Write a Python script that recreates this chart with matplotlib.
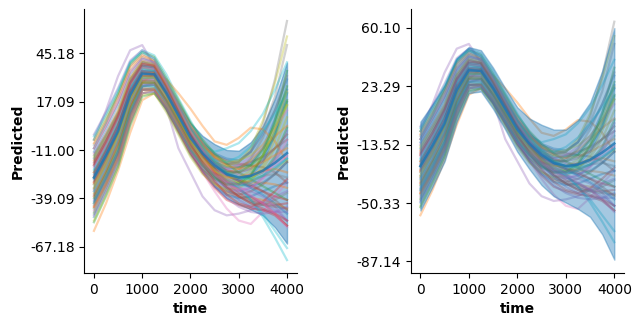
import numpy as np
import matplotlib
matplotlib.use("Agg")
import matplotlib.pyplot as plt

# time grid of the samples
time = np.arange(0, 4001, 250)

# posterior mean
mean = [-27, -14, 0, 21, 33.5, 33, 22, 9, -4, -13, -20, -25, -27, -26, -23, -18.5, -12.8]

# bands (left: narrow, right: wide)
lower_left = [-41, -27, -12, 11, 26.2, 26.5, 15.5, 1.6, -12.7, -23.2, -32.4, -39, -42.6, -45.6, -49, -55.9, -65.4]
upper_left = [-13, -1, 12, 31, 40.8, 39.5, 28.5, 16.4, 4.7, -2.8, -7.6, -11, -11.4, -6.4, 3, 18.9, 39.8]
lower_right = [-55, -40, -24, 1, 19, 20, 9, -4, -18, -29, -39, -46, -50, -54, -59, -70, -86]
upper_right = [1, 12, 24, 41, 48, 46, 35, 22, 10, 3, -1, -4, -4, 2, 13, 33, 60]

# sampled curves, in plotting order (colour follows the default cycle)
samples_a = [
    [-41, -27, -12, 11, 26, 28, 19, 6, -6, -13, -20, -22, -21, -19, -10, 7, 24],
    [-58, -42, -23, -1, 18, 22, 13, 0, -13, -23, -31, -36, -38, -39, -40, -42, -45],
    [-48, -33, -17, 7, 24, 25, 15, 3, -9, -17, -22, -25, -27, -27, -24, -15, 2],
    [-20, -8, 6, 26, 37, 36, 25, 12, -1, -12, -22, -30, -36, -40, -42, -43, -42],
    [-5, 12, 32, 47, 50, 38, 14, -10, -24, -38, -46, -49, -48, -46, -42, -38, -35],
    [-34, -20, -6, 16, 30, 31, 21, 9, -2, -9, -14, -17, -19, -20, -21, -24, -30],
    [-38, -24, -9, 14, 28, 28, 17, 3, -11, -24, -35, -45, -52, -54, -47, -38, -30],
    [-8, 5, 20, 38, 45, 41, 30, 17, 4, -6, -14, -18, -18, -12, 4, 30, 64],
    [-24, -10, 6, 27, 37, 35, 24, 11, -2, -11, -17, -20, -18, -10, 6, 28, 55],
    [-10, 5, 22, 40, 47, 44, 33, 19, 6, -6, -16, -24, -32, -40, -50, -62, -75],
]
samples_b = [
    [-16, -4, 9, 28, 38, 37, 26, 14, 2, -7, -13, -16, -17, -12, -2, 12, 30],
    [-30, -20, -6, 14, 28, 34, 30, 22, 13, 3, -6, -8, -4, 2, 1, -6, -18],
    [-45, -31, -15, 9, 24, 24, 13, 0, -13, -22, -28, -31, -30, -25, -15, 0, 18],
    [-30, -17, -2, 19, 32, 32, 21, 8, -5, -15, -23, -29, -34, -38, -42, -48, -55],
    [-27, -15, -1, 20, 33, 33, 22, 9, -5, -16, -26, -34, -40, -44, -46, -47, -47],
    [-42, -28, -13, 10, 25, 25, 14, 1, -12, -22, -30, -35, -37, -35, -31, -25, -18],
    [-13, -1, 12, 31, 41, 39, 28, 15, 2, -8, -16, -22, -25, -26, -24, -20, -14],
    [-20, -7, 8, 28, 39, 38, 27, 14, 1, -9, -16, -19, -18, -12, 0, 20, 50],
    [-36, -23, -8, 14, 29, 29, 18, 5, -8, -18, -25, -29, -30, -29, -26, -22, -17],
    [-23, -10, 5, 26, 37, 36, 25, 12, 0, -8, -12, -10, -7, 0, 10, 24, 40],
]
samples_c = [
    [-50, -35, -19, 5, 22, 23, 12, -1, -14, -24, -32, -37, -39, -38, -35, -32, -30],
    [-17, -4, 10, 30, 40, 38, 26, 13, 0, -11, -20, -26, -29, -30, -30, -31, -33],
    [-27, -14, 1, 22, 34, 34, 23, 10, -3, -12, -18, -21, -21, -20, -14, -3, 17],
    [-44, -30, -14, 9, 24, 24, 13, 0, -13, -24, -33, -40, -43, -45, -46, -49, -55],
    [-31, -18, -3, 18, 31, 31, 20, 7, -6, -16, -24, -30, -33, -35, -38, -44, -52],
    [-10, 3, 17, 35, 43, 40, 28, 15, 2, -8, -15, -19, -20, -18, -15, -10, -5],
    [-46, -32, -16, 8, 24, 24, 14, 1, -12, -21, -27, -30, -31, -30, -27, -22, -15],
    [-33, -19, -4, 17, 30, 30, 19, 6, -7, -17, -26, -33, -38, -42, -43, -40, -36],
    [-52, -37, -20, 4, 21, 22, 11, -2, -15, -25, -31, -34, -33, -29, -20, -5, 15],
    [-22, -9, 6, 25, 36, 35, 24, 11, -2, -12, -20, -27, -33, -40, -48, -58, -68],
]
samples_d = [
    [-28, -15, -1, 20, 33, 33, 22, 9, -4, -14, -22, -28, -31, -32, -30, -25, -18],
    [-38, -24, -8, 14, 28, 28, 17, 4, -9, -17, -22, -24, -22, -17, -10, -3, 3],
    [-5, 8, 22, 39, 46, 43, 31, 18, 5, -5, -13, -19, -24, -28, -32, -36, -40],
    [-24, -11, 3, 23, 35, 34, 23, 10, -3, -13, -21, -26, -29, -32, -35, -38, -40],
    [-40, -26, -11, 12, 27, 27, 16, 3, -10, -20, -28, -33, -35, -33, -27, -16, 0],
    [-18, -6, 8, 27, 38, 37, 26, 13, 0, -10, -18, -24, -28, -31, -35, -40, -46],
    [-35, -21, -6, 16, 30, 30, 19, 6, -7, -15, -20, -22, -20, -15, -8, 2, 12],
    [-14, -2, 11, 30, 40, 38, 27, 14, 1, -9, -17, -23, -26, -26, -23, -17, -8],
    [-31, -17, -2, 19, 32, 32, 21, 8, -5, -15, -23, -28, -30, -28, -22, -10, 8],
    [-42, -28, -12, 11, 26, 26, 15, 2, -11, -20, -27, -31, -32, -30, -26, -21, -16],
]
samples_e = [
    [-12, 1, 15, 33, 42, 40, 28, 14, 0, -11, -20, -26, -28, -26, -18, -2, 22],
    [-44, -31, -16, 6, 22, 24, 15, 3, -9, -18, -24, -27, -27, -25, -23, -22, -24],
    [-53, -38, -21, 3, 20, 22, 13, 1, -11, -20, -27, -31, -31, -26, -14, 6, 35],
    [-26, -12, 3, 23, 34, 33, 21, 7, -7, -19, -29, -37, -42, -44, -41, -35, -28],
    [-2, 11, 25, 41, 47, 42, 29, 14, 0, -12, -22, -29, -34, -38, -42, -46, -52],
    [-37, -23, -7, 15, 29, 29, 18, 5, -8, -18, -26, -33, -38, -41, -43, -44, -45],
    [-21, -8, 7, 27, 37, 36, 24, 10, -4, -16, -25, -31, -34, -33, -28, -18, -5],
    [-47, -32, -16, 8, 24, 24, 14, 1, -11, -20, -25, -26, -23, -16, -4, 12, 32],
    [-15, -2, 12, 31, 41, 39, 27, 13, 0, -9, -15, -18, -17, -14, -8, 2, 15],
    [-35, -21, -5, 17, 31, 31, 21, 9, -3, -12, -17, -18, -15, -9, 0, 10, 22],
]
samples_f = [
    [-25, -12, 3, 24, 35, 35, 24, 11, -2, -12, -19, -25, -29, -33, -37, -42, -48],
    [-7, 6, 20, 37, 44, 41, 29, 16, 3, -7, -15, -20, -22, -21, -18, -14, -10],
    [-39, -25, -10, 13, 28, 28, 18, 6, -6, -15, -21, -24, -24, -20, -11, 4, 26],
    [-19, -6, 9, 28, 39, 38, 26, 12, -2, -14, -24, -32, -38, -42, -45, -48, -52],
    [-49, -35, -18, 5, 22, 23, 13, 1, -12, -23, -32, -39, -44, -47, -48, -47, -44],
    [-29, -16, -1, 19, 32, 32, 22, 10, -2, -12, -19, -23, -24, -22, -17, -10, -2],
    [-10, 3, 17, 34, 42, 40, 28, 14, 0, -11, -20, -27, -32, -37, -42, -48, -56],
    [-43, -29, -13, 10, 26, 27, 17, 4, -9, -19, -26, -30, -31, -29, -26, -25, -27],
    [-33, -19, -3, 18, 31, 31, 20, 7, -6, -16, -23, -27, -27, -23, -14, 1, 23],
    [-3, 10, 24, 40, 46, 42, 30, 16, 2, -9, -18, -24, -27, -28, -26, -22, -16],
]
samples = samples_a + samples_b + samples_c + samples_d + samples_e + samples_f

ticks_left = [45.18, 17.09, -11.00, -39.09, -67.18]
ticks_right = [60.10, 23.29, -13.52, -50.33, -87.14]

fig = plt.figure(figsize=(6.41, 3.26), dpi=100)
ax1 = fig.add_axes([0.1315, 0.1626, 0.3313, 0.8083])
ax2 = fig.add_axes([0.6407, 0.1626, 0.3328, 0.8083])

# left: band underneath the samples
ax1.fill_between(time, lower_left, upper_left, color="tab:blue", alpha=0.45, zorder=1)
for s in samples:
    ax1.plot(time, s, alpha=0.35, lw=1.6, zorder=2)
ax1.plot(time, mean, color="tab:blue", lw=1.8, alpha=0.8, zorder=3)

# right: band over the samples
for s in samples:
    ax2.plot(time, s, alpha=0.35, lw=1.6, zorder=1)
ax2.fill_between(time, lower_right, upper_right, color="tab:blue", alpha=0.4, zorder=2)
ax2.plot(time, mean, color="tab:blue", lw=1.8, alpha=0.8, zorder=3)

for ax, ticks, lim in [(ax1, ticks_left, (-82.5, 70.7)), (ax2, ticks_right, (-94.4, 71.7))]:
    ax.set_ylim(*lim)
    ax.set_yticks(ticks)
    ax.set_yticklabels(["%.2f" % t for t in ticks])
    ax.set_xticks([0, 1000, 2000, 3000, 4000])
    ax.set_xlabel("time", fontweight="bold")
    ax.set_ylabel("Predicted", fontweight="bold")
    ax.spines["top"].set_visible(False)
    ax.spines["right"].set_visible(False)

fig.savefig("out.png", dpi=100)
